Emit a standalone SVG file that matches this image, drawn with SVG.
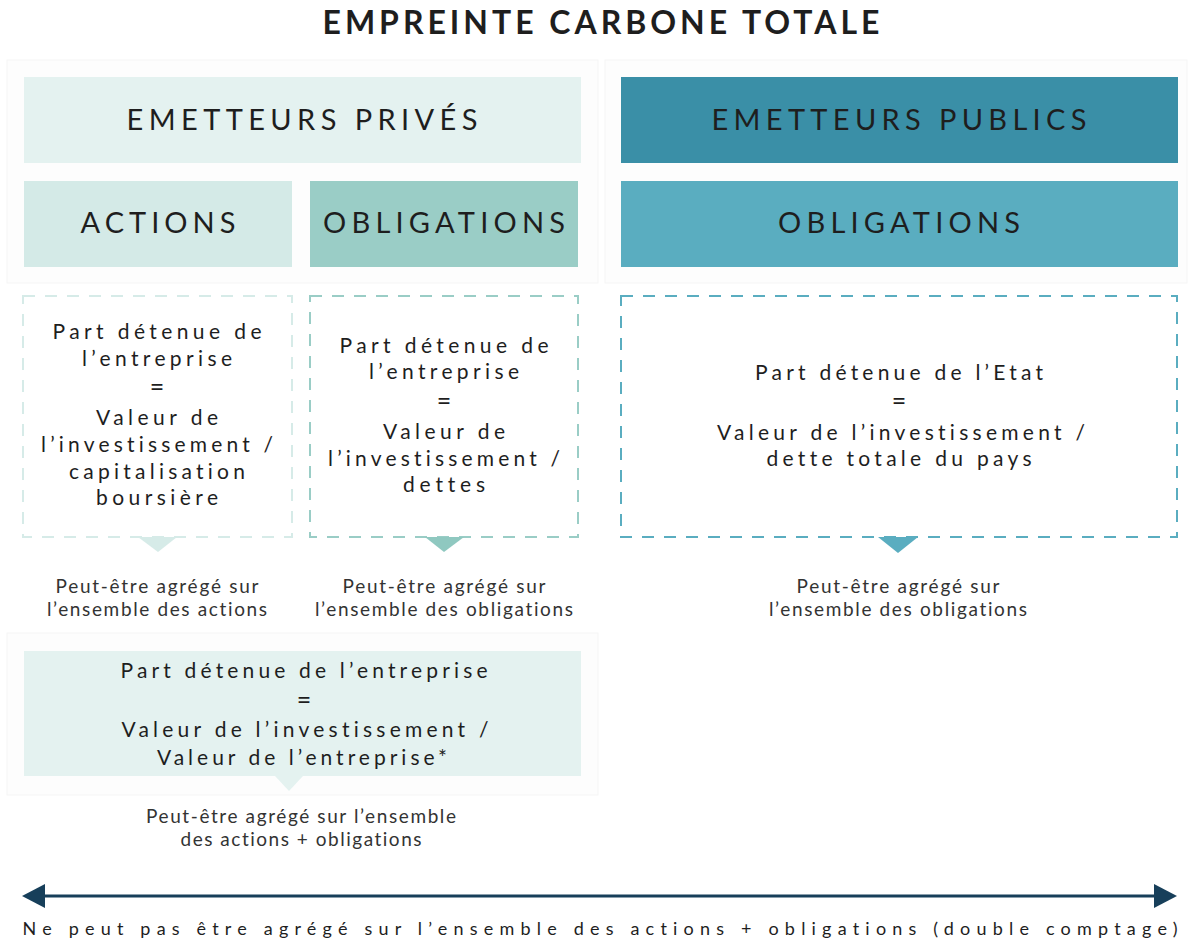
<svg xmlns="http://www.w3.org/2000/svg" width="1189" height="940" viewBox="0 0 1189 940">
<style>
text{font-variant-ligatures:none;font-feature-settings:"liga" 0,"clig" 0,"dlig" 0}
.t{font-family:Lato,"Noto Sans",sans-serif;fill:#1e1e1e;text-anchor:middle}
.hd{font-size:29px}
.fm{font-size:21px}
.eq{font-size:25px}
.cap{font-family:Lato,"Noto Sans",sans-serif;fill:#333;text-anchor:middle;font-size:19px}
.panel{fill:#fdfdfd;stroke:#f5f5f5;stroke-width:1}
.dash{fill:#fff;stroke-width:2;stroke-dasharray:12 10}
</style>
<rect width="1189" height="940" fill="#fff"/>
<text id="title" x="601" y="34" class="t" style="font-size:32px;font-weight:bold" textLength="557" lengthAdjust="spacing">EMPREINTE CARBONE TOTALE</text>
<rect class="panel" x="7" y="60" width="591" height="223"/>
<rect class="panel" x="605" y="60" width="582" height="223"/>
<rect class="panel" x="7" y="633" width="591" height="162"/>
<g id="prives">
<rect x="24" y="77" width="557" height="86" fill="#e4f2f0"/>
<text x="302" y="130" class="t hd" textLength="351" lengthAdjust="spacing">EMETTEURS PRIVÉS</text>
</g>
<g id="publics">
<rect x="621" y="77" width="557" height="86" fill="#3a8fa7"/>
<text x="899" y="130" class="t hd" textLength="375" lengthAdjust="spacing">EMETTEURS PUBLICS</text>
</g>
<g id="actions">
<rect x="24" y="181" width="268" height="86" fill="#d4eae7"/>
<text x="158" y="233" class="t hd" textLength="155" lengthAdjust="spacing">ACTIONS</text>
</g>
<g id="oblig-prives">
<rect x="310" y="181" width="268" height="86" fill="#9acdc6"/>
<text x="444" y="233" class="t hd" textLength="242" lengthAdjust="spacing">OBLIGATIONS</text>
</g>
<g id="oblig-publics">
<rect x="621" y="181" width="557" height="86" fill="#5aadc0"/>
<text x="899" y="233" class="t hd" textLength="242" lengthAdjust="spacing">OBLIGATIONS</text>
</g>
<g id="formule-actions">
<rect class="dash" x="23" y="296" width="269" height="241" stroke="#d6ebe8"/>
<polygon points="138,537 177,537 158,552" fill="#d6ebe8"/>
<text class="t fm" x="157" y="339" textLength="209" lengthAdjust="spacing">Part détenue de</text>
<text class="t fm" x="157" y="366" textLength="150" lengthAdjust="spacing">l’entreprise</text>
<text class="t eq" x="157" y="396">=</text>
<text class="t fm" x="157" y="425" textLength="122" lengthAdjust="spacing">Valeur de</text>
<text class="t fm" x="157" y="452" textLength="232" lengthAdjust="spacing">l’investissement /</text>
<text class="t fm" x="157" y="479" textLength="176" lengthAdjust="spacing">capitalisation</text>
<text class="t fm" x="157" y="505" textLength="122" lengthAdjust="spacing">boursière</text>
<text class="cap" x="157" y="593" textLength="203" lengthAdjust="spacing">Peut-être agrégé sur</text>
<text class="cap" x="157" y="616" textLength="220" lengthAdjust="spacing">l’ensemble des actions</text>
</g>
<g id="formule-oblig-prives">
<rect class="dash" x="310" y="296" width="268" height="241" stroke="#9acdc6"/>
<polygon points="425,537 464,537 444,552" fill="#8fc8c0"/>
<text class="t fm" x="444" y="353" textLength="209" lengthAdjust="spacing">Part détenue de</text>
<text class="t fm" x="444" y="379" textLength="150" lengthAdjust="spacing">l’entreprise</text>
<text class="t eq" x="444" y="410">=</text>
<text class="t fm" x="444" y="439" textLength="122" lengthAdjust="spacing">Valeur de</text>
<text class="t fm" x="444" y="466" textLength="232" lengthAdjust="spacing">l’investissement /</text>
<text class="t fm" x="444" y="492" textLength="82" lengthAdjust="spacing">dettes</text>
<text class="cap" x="444" y="593" textLength="203" lengthAdjust="spacing">Peut-être agrégé sur</text>
<text class="cap" x="444" y="616" textLength="258" lengthAdjust="spacing">l’ensemble des obligations</text>
</g>
<g id="formule-oblig-publics">
<rect class="dash" x="621" y="296" width="556" height="241" stroke="#5aadc0"/>
<polygon points="878,537 918,537 898,553" fill="#5aadc0"/>
<text class="t fm" x="899" y="380" textLength="288" lengthAdjust="spacing">Part détenue de l’Etat</text>
<text class="t eq" x="899" y="410">=</text>
<text class="t fm" x="901" y="440" textLength="368" lengthAdjust="spacing">Valeur de l’investissement /</text>
<text class="t fm" x="899" y="466" textLength="265" lengthAdjust="spacing">dette totale du pays</text>
<text class="cap" x="898" y="593" textLength="203" lengthAdjust="spacing">Peut-être agrégé sur</text>
<text class="cap" x="898" y="616" textLength="258" lengthAdjust="spacing">l’ensemble des obligations</text>
</g>
<g id="formule-globale">
<rect x="24" y="651" width="557" height="125" fill="#e4f2f0"/>
<polygon points="275,776 303,776 289,791" fill="#e4f2f0"/>
<text class="t fm" x="304" y="678" textLength="367" lengthAdjust="spacing">Part détenue de l’entreprise</text>
<text class="t eq" x="304" y="709">=</text>
<text class="t fm" x="305" y="737" textLength="367" lengthAdjust="spacing">Valeur de l’investissement /</text>
<text class="t fm" x="302" y="765" textLength="290" lengthAdjust="spacing">Valeur de l’entreprise*</text>
<text class="cap" x="301" y="823" textLength="310" lengthAdjust="spacing">Peut-être agrégé sur l’ensemble</text>
<text class="cap" x="301" y="846" textLength="241" lengthAdjust="spacing">des actions + obligations</text>
</g>
<g id="connectors">
<line x1="40" y1="896" x2="1160" y2="896" stroke="#173f5a" stroke-width="3"/>
<polygon points="22,896 45,884 45,908" fill="#173f5a"/>
<polygon points="1177,896 1154,884 1154,908" fill="#173f5a"/>
</g>
<text id="note" class="t" style="font-size:18px" x="600" y="935" textLength="1155" lengthAdjust="spacing">Ne peut pas être agrégé sur l’ensemble des actions + obligations (double comptage)</text>
</svg>
